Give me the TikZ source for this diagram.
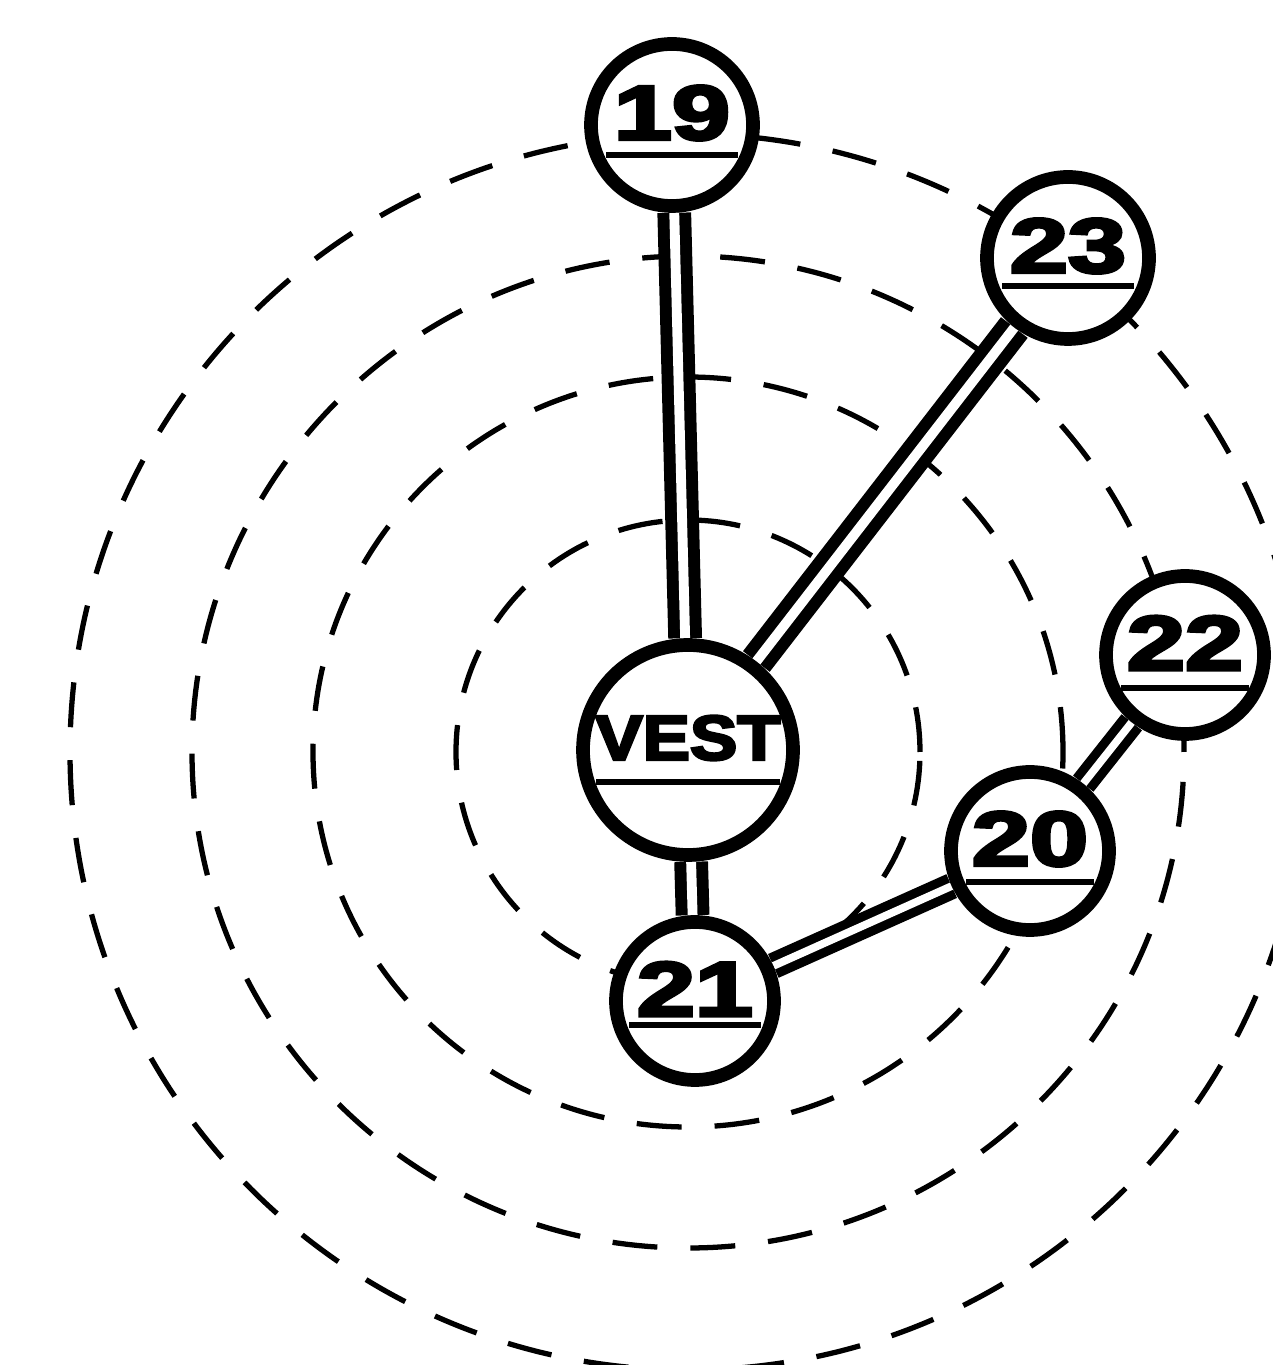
\documentclass[tikz,border=0pt]{standalone}
\usepackage{fontspec}
\usepackage{graphicx}
\newfontfamily\heavy{Liberation Sans}[UprightFont=* Bold, UprightFeatures={FakeBold=4}]
\usetikzlibrary{calc,backgrounds}
\tikzset{
  knot/.style={circle, draw, line width=3.9pt, fill=white, inner sep=0pt},
  ring/.style={draw, line width=1.5pt, dash pattern=on 0.45cm off 0.33cm},
  dbl/.style={draw, line width=3.4pt, double=white, double distance=2.8pt},
  dblthin/.style={draw, line width=2.6pt, double=white, double distance=2.2pt},
  knottext/.style={inner sep=0pt},
  uline/.style={line width=1.6pt}
}
\newcommand\knotlabel[6]{% name, text, xscale, fontsize, halfchord, chord offset
  \node[knottext, font=\heavy\fontsize{#4}{#4}\selectfont] (#1-t) at ($(#1.center)+(0,0.12)$) {\scalebox{#3}[1]{#2}};
  \draw[uline] ($(#1.center)+(-#5,-#6)$) -- ($(#1.center)+(#5,-#6)$);
}
\begin{document}
\begin{tikzpicture}
\useasboundingbox (0,0) rectangle (12.73,13.65);
\clip (0,0) rectangle (12.73,13.65);

% nodes
\node[knot, minimum size=2.10cm] (vest) at (6.88,6.15) {};
\node[knot, minimum size=1.62cm] (n19) at (6.72,12.40) {};
\node[knot, minimum size=1.62cm] (n23) at (10.68,11.07) {};
\node[knot, minimum size=1.58cm] (n22) at (11.85,7.10) {};
\node[knot, minimum size=1.58cm] (n20) at (10.30,5.14) {};
\node[knot, minimum size=1.58cm] (n21) at (6.95,3.64) {};

\begin{scope}[on background layer]
  \fill[white] (0,0) rectangle (12.73,13.65);
  \coordinate (ctr) at (6.88,6.13);
  \draw[ring] (ctr) circle (2.32);
  \draw[ring] (ctr) circle (3.75);
  \draw[ring] (ctr) circle (4.96);
  \draw[ring] (ctr) circle (6.18);
  \draw[dbl] (n19) -- (vest);
  \draw[dbl] (n23) -- (vest);
  \draw[dbl] (vest) -- (n21);
  \draw[dblthin] (n21) -- (n20);
  \draw[dblthin] (n20) -- (n22);
\end{scope}

\knotlabel{vest}{VEST}{1.12}{18}{0.92}{0.32}
\knotlabel{n19}{19}{1.35}{22}{0.66}{0.30}
\knotlabel{n23}{23}{1.35}{22}{0.66}{0.28}
\knotlabel{n22}{22}{1.35}{22}{0.64}{0.33}
\knotlabel{n20}{20}{1.35}{22}{0.64}{0.31}
\knotlabel{n21}{21}{1.35}{22}{0.66}{0.24}
\end{tikzpicture}
\end{document}
